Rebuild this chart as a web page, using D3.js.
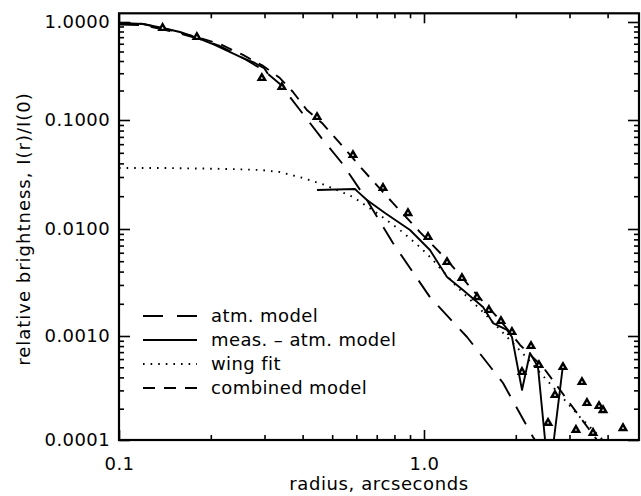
<!DOCTYPE html>
<html>
<head>
<meta charset="utf-8">
<script src="https://cdn.jsdelivr.net/npm/d3@7"></script>
<style>
body{margin:0;background:#fff;}
svg text{font-family:"DejaVu Sans",sans-serif;font-size:18px;fill:#000;}
</style>
</head>
<body>
<svg id="chart" width="641" height="496"></svg>
<script>
// atm. model (long dashes)
const atmR = [0.100, 0.120, 0.147, 0.184, 0.214, 0.255, 0.297, 0.337, 0.392, 0.467, 0.538, 0.650, 0.791, 1.046, 1.384, 1.816, 2.277, 2.40];
const atmI = [0.94, 0.93, 0.809, 0.671, 0.569, 0.429, 0.324, 0.233, 0.1265, 0.0655, 0.0403, 0.01845, 0.0074, 0.00231, 0.000978, 0.000353, 0.000107, 0.000085];

// combined model (short dashes)
const combR = [0.100, 0.120, 0.147, 0.184, 0.214, 0.255, 0.297, 0.337, 0.372, 0.413, 0.463, 0.530, 0.631, 0.785, 0.970, 1.190, 1.492, 1.775, 2.065, 2.456, 2.793, 3.247, 3.693, 3.78];
const combI = [0.98, 0.955, 0.829, 0.687, 0.596, 0.461, 0.356, 0.268, 0.193, 0.1265, 0.0939, 0.0615, 0.0348, 0.0177, 0.00937, 0.00513, 0.00242, 0.00141, 0.00082, 0.000503, 0.000303, 0.000166, 0.0001, 0.000092];

// wing fit (dotted)
const wingR = [0.100, 0.136, 0.184, 0.231, 0.290, 0.337, 0.401, 0.474, 0.585, 0.717, 0.834, 0.970, 1.070, 1.283, 1.561, 1.871, 2.177, 2.649, 3.247, 3.864, 3.95];
const wingI = [0.0363, 0.0363, 0.0359, 0.0355, 0.0348, 0.0333, 0.0294, 0.0253, 0.0197, 0.0134, 0.00979, 0.00679, 0.00513, 0.00287, 0.00168, 0.000978, 0.000614, 0.000323, 0.000166, 0.0001, 0.000093];

// measured profile, inner part (solid)
const profR = [0.100, 0.120, 0.139, 0.1585, 0.184, 0.206, 0.255, 0.279, 0.290, 0.299, 0.308];
const profI = [0.98, 0.954, 0.869, 0.791, 0.671, 0.583, 0.429, 0.382, 0.356, 0.339, 0.295];

// meas. - atm. model (solid)
const diffR = [0.446, 0.594, 0.6075, 0.650, 0.745, 0.900, 1.046, 1.190, 1.342, 1.561, 1.684, 1.871, 1.943, 2.096, 2.226, 2.365, 2.569, 2.856];
const diffI = [0.0228, 0.0233, 0.0219, 0.01845, 0.0140, 0.00979, 0.00636, 0.00356, 0.00269, 0.00187, 0.00132, 0.00114, 0.000978, 0.000303, 0.000686, 0.000503, 0.0000412, 0.000526];

// measured points (triangles)
const ptR = [0.139, 0.180, 0.294, 0.342, 0.446, 0.585, 0.734, 0.886, 1.031, 1.190, 1.332, 1.492, 1.633, 1.788, 1.943, 2.096, 2.243, 2.382, 2.551, 2.689, 2.856, 3.150, 3.296, 3.423, 3.583, 3.749, 3.864, 4.493];
const ptI = [0.869, 0.703, 0.268, 0.217, 0.1073, 0.0477, 0.0238, 0.0140, 0.00842, 0.00491, 0.00348, 0.00231, 0.00175, 0.00138, 0.00109, 0.000451, 0.000801, 0.000526, 0.000146, 0.000271, 0.000503, 0.000125, 0.000361, 0.000227, 0.000117, 0.000212, 0.000194, 0.00013];

// ticks
const xMajor = [0.1, 1.0];
const xMajorLabels = ["0.1", "1.0"];
const xMinor = [0.2, 0.3, 0.4, 0.5, 0.6, 0.7, 0.8, 0.9, 2, 3, 4];
const yMajor = [1, 0.1, 0.01, 0.001, 0.0001];
const yMajorLabels = ["1.0000", "0.1000", "0.0100", "0.0010", "0.0001"];
const yMult = [2, 3, 4, 5, 6, 7, 8, 9];

const legendItems = [
  {label: "atm. model", dash: "20,14"},
  {label: "meas. \u2013 atm. model", dash: null},
  {label: "wing fit", dash: "1.6,6"},
  {label: "combined model", dash: "12,9"}
];

const pLeft = 119, pRight = 639, pTop = 13.3, pBottom = 440;

const svg = d3.select("#chart");

const x = d3.scaleLog().domain([0.1, 5.07]).range([pLeft, pRight]);
// the scanned axis has slightly uneven decades, so map each decade on its own
const y = d3.scaleLog()
  .domain([1e-4, 1e-3, 1e-2, 1e-1, 1, 1.227])
  .range([pBottom, 336, 229, 120, 22, pTop]);

const yMinor = [];
yMajor.slice(1).forEach(dec => yMult.forEach(m => yMinor.push(dec * m)));

svg.append("defs").append("clipPath").attr("id", "plotclip")
  .append("rect").attr("x", pLeft).attr("y", pTop)
  .attr("width", pRight - pLeft).attr("height", pBottom - pTop);

function styleAxis(g) {
  g.select(".domain").remove();
  g.selectAll(".tick line").attr("stroke", "#000").attr("stroke-width", 1.6);
  g.selectAll(".tick text").attr("fill", "#000")
    .style("font-family", "DejaVu Sans, sans-serif").style("font-size", "18px")
    .style("letter-spacing", "0.4px");
}

// bottom axis
svg.append("g").attr("transform", `translate(0,${pBottom})`)
  .call(d3.axisBottom(x).tickValues(xMajor)
    .tickFormat(d => xMajorLabels[xMajor.indexOf(d)])
    .tickSizeInner(-10).tickSizeOuter(0).tickPadding(17))
  .call(styleAxis);
svg.append("g").attr("transform", `translate(0,${pBottom})`)
  .call(d3.axisBottom(x).tickValues(xMinor).tickFormat("")
    .tickSizeInner(-5).tickSizeOuter(0))
  .call(styleAxis);
// top axis
svg.append("g").attr("transform", `translate(0,${pTop})`)
  .call(d3.axisTop(x).tickValues(xMajor).tickFormat("")
    .tickSizeInner(-10).tickSizeOuter(0))
  .call(styleAxis);
svg.append("g").attr("transform", `translate(0,${pTop})`)
  .call(d3.axisTop(x).tickValues(xMinor).tickFormat("")
    .tickSizeInner(-5).tickSizeOuter(0))
  .call(styleAxis);
// left axis
svg.append("g").attr("transform", `translate(${pLeft},0)`)
  .call(d3.axisLeft(y).tickValues(yMajor)
    .tickFormat(d => yMajorLabels[yMajor.indexOf(d)])
    .tickSizeInner(-11).tickSizeOuter(0).tickPadding(9))
  .call(styleAxis);
svg.append("g").attr("transform", `translate(${pLeft},0)`)
  .call(d3.axisLeft(y).tickValues(yMinor).tickFormat("")
    .tickSizeInner(-5).tickSizeOuter(0))
  .call(styleAxis);
// right axis
svg.append("g").attr("transform", `translate(${pRight},0)`)
  .call(d3.axisRight(y).tickValues(yMajor).tickFormat("")
    .tickSizeInner(-11).tickSizeOuter(0))
  .call(styleAxis);
svg.append("g").attr("transform", `translate(${pRight},0)`)
  .call(d3.axisRight(y).tickValues(yMinor).tickFormat("")
    .tickSizeInner(-5).tickSizeOuter(0))
  .call(styleAxis);

// frame
svg.append("rect").attr("x", pLeft).attr("y", pTop)
  .attr("width", pRight - pLeft).attr("height", pBottom - pTop)
  .attr("fill", "none").attr("stroke", "#000").attr("stroke-width", 2.2);

// curves
const line = d3.line().x(d => x(d[0])).y(d => y(d[1]));
const plot = svg.append("g").attr("clip-path", "url(#plotclip)");

function curve(rs, is, dash) {
  plot.append("path").datum(d3.zip(rs, is))
    .attr("d", line).attr("fill", "none").attr("stroke", "#000")
    .attr("stroke-width", 1.9).attr("stroke-dasharray", dash)
    .attr("stroke-linejoin", "round");
}
curve(atmR, atmI, "20,12");
curve(combR, combI, "12,9");
curve(wingR, wingI, "1.6,6");
curve(profR, profI, null);
curve(diffR, diffI, null);

plot.selectAll(".pt").data(d3.zip(ptR, ptI)).enter()
  .append("path").attr("class", "pt")
  .attr("d", d3.symbol(d3.symbolTriangle, 18))
  .attr("transform", d => `translate(${x(d[0])},${y(d[1])})`)
  .attr("fill", "#fff").attr("stroke", "#000").attr("stroke-width", 2.4);

// legend
const leg = svg.append("g");
legendItems.forEach((it, i) => {
  const ly = 316 + i * 24;
  leg.append("line").attr("x1", 143).attr("x2", 197).attr("y1", ly).attr("y2", ly)
    .attr("stroke", "#000").attr("stroke-width", 1.9)
    .attr("stroke-dasharray", it.dash);
  leg.append("text").attr("x", 211).attr("y", ly).attr("dy", "0.35em")
    .style("letter-spacing", "0.4px").text(it.label);
});

// axis titles
svg.append("text").attr("x", (pLeft + pRight) / 2).attr("y", 490)
  .attr("text-anchor", "middle").style("letter-spacing", "0.6px")
  .text("radius, arcseconds");
svg.append("text").attr("transform", "translate(30,229) rotate(-90)")
  .attr("text-anchor", "middle").style("letter-spacing", "1px")
  .text("relative brightness, I(r)/I(0)");
</script>
</body>
</html>
